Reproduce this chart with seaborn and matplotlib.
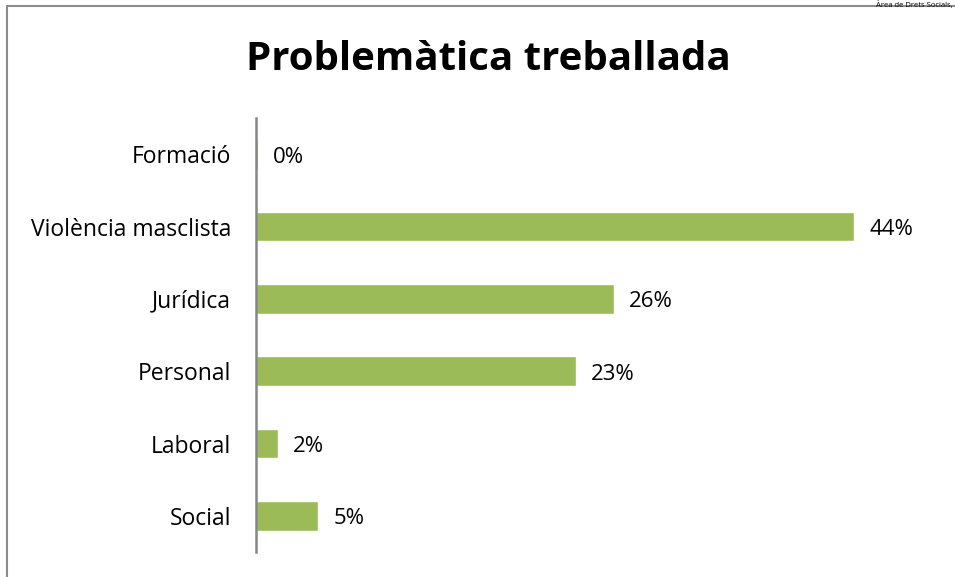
import matplotlib
matplotlib.use('Agg')
import matplotlib.pyplot as plt
import seaborn as sns
import pandas as pd
from matplotlib.lines import Line2D

# data (share of cases, %)
categories = ['Formació', 'Violència masclista', 'Jurídica', 'Personal', 'Laboral', 'Social']
values = [0.15, 44.0, 26.3, 23.5, 1.6, 4.6]
labels = ['0%', '44%', '26%', '23%', '2%', '5%']

df = pd.DataFrame({'categoria': categories, 'valor': values})

sns.set_theme(style='white')
plt.rcParams['font.family'] = ['Open Sans', 'DejaVu Sans']
plt.rcParams['text.color'] = 'black'
plt.rcParams['ytick.color'] = 'black'

fig = plt.figure(figsize=(9.55, 5.77), dpi=100)
ax = fig.add_axes([0.268, 0.0433, 0.712, 0.7522])

sns.barplot(data=df, x='valor', y='categoria', orient='h', color='#9BBB59',
            saturation=1, width=0.41, ax=ax)

for i, (v, lab) in enumerate(zip(values, labels)):
    ax.text(v + 1.1, i + 0.04, lab, va='center', ha='left', fontsize=16, color='black')

ax.set_xlim(0, 50)
ax.set_ylim(5.5, -0.5)
ax.set_xlabel('')
ax.set_ylabel('')
ax.set_xticks([])
ax.tick_params(axis='y', labelsize=16.5, labelcolor='black', length=0, pad=18)
for t in ax.get_yticklabels():
    t.set_va('center_baseline')
for s in ['top', 'right', 'bottom']:
    ax.spines[s].set_visible(False)
ax.spines['left'].set_color('#868686')
ax.spines['left'].set_linewidth(1.8)

fig.suptitle('Problemàtica treballada', x=0.511, y=0.93, fontsize=29, fontweight='bold',
             color='black')

# outer frame of the chart area (only top and left edges visible)
fig.add_artist(Line2D([7 / 955, 7 / 955], [0, 1 - 6 / 577], color='#8c8c8c', lw=1.5,
                      transform=fig.transFigure))
fig.add_artist(Line2D([7 / 955, 1], [1 - 6 / 577, 1 - 6 / 577], color='#8c8c8c', lw=1.5,
                      transform=fig.transFigure))
fig.text(0.997, 0.999, 'Àrea de Drets Socials,', ha='right', va='top',
         fontsize=5.5, color='black')

fig.savefig('out.png', dpi=100)
